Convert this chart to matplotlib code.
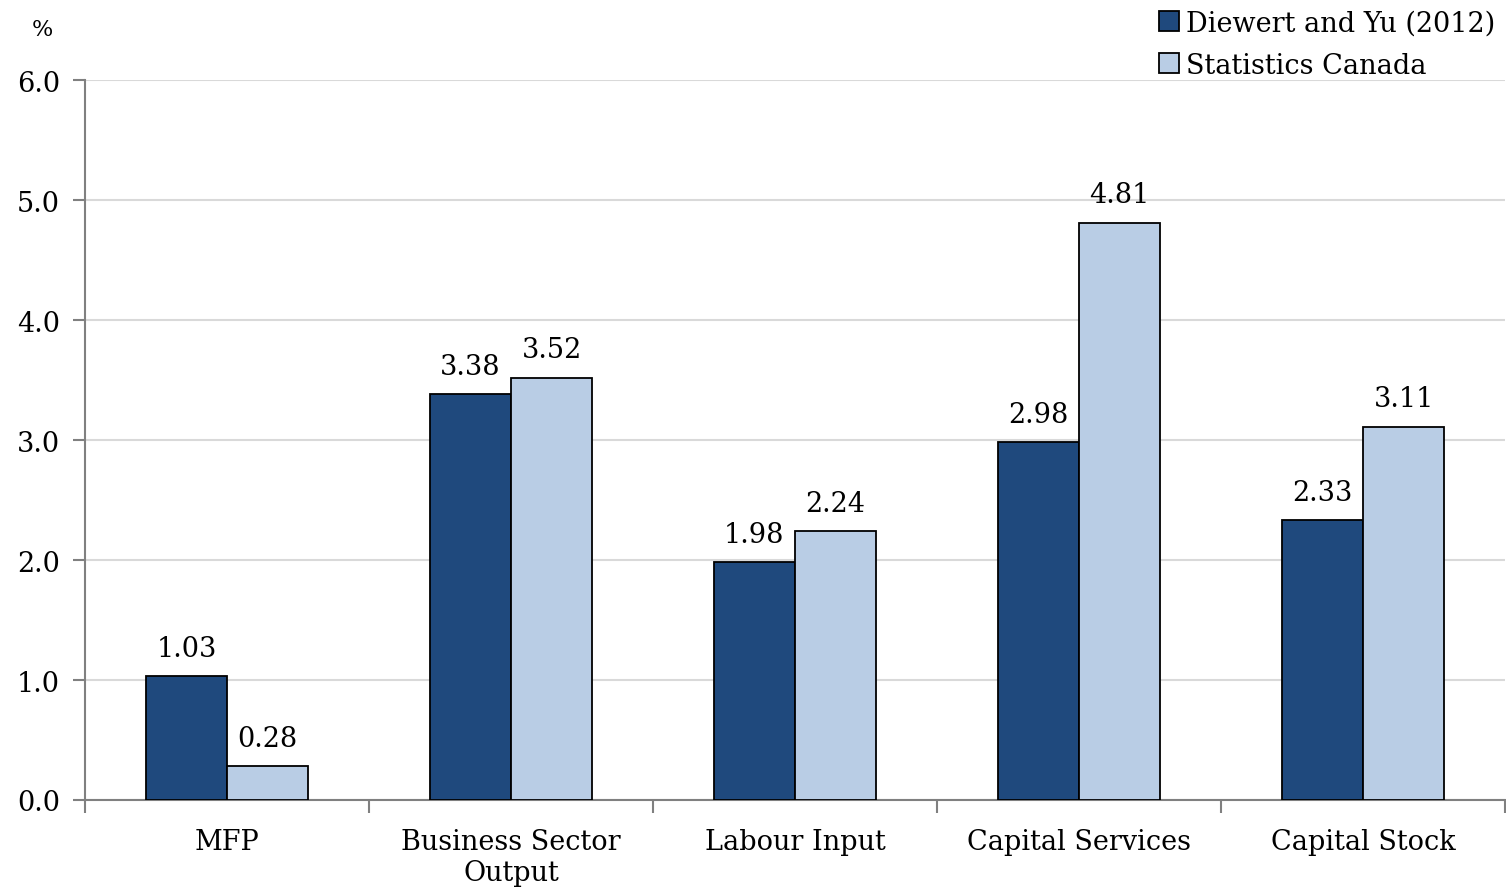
import matplotlib
matplotlib.use("Agg")
import matplotlib.pyplot as plt
import numpy as np

categories = ["MFP", "Business Sector\nOutput", "Labour Input", "Capital Services", "Capital Stock"]
series_names = ["Diewert and Yu (2012)", "Statistics Canada"]
diewert = [1.03, 3.38, 1.98, 2.98, 2.33]
statcan = [0.28, 3.52, 2.24, 4.81, 3.11]
yticks = [0.0, 1.0, 2.0, 3.0, 4.0, 5.0, 6.0]

plt.rcParams['font.family'] = ['DejaVu Serif']
FS = 19.5

fig = plt.figure(figsize=(15.06, 8.95), dpi=100)
ax = fig.add_axes([85/1506, 1-801/895, 1420/1506, 720/895])

x = np.arange(len(categories))
w = 0.286
dark = "#1F497D"
light = "#B9CDE5"
b1 = ax.bar(x - w/2, diewert, w, color=dark, edgecolor="black", linewidth=1.3, label=series_names[0], zorder=3)
b2 = ax.bar(x + w/2, statcan, w, color=light, edgecolor="black", linewidth=1.3, label=series_names[1], zorder=3)

for bars, vals in ((b1, diewert), (b2, statcan)):
    for r, v in zip(bars, vals):
        ax.text(r.get_x() + r.get_width()/2, v + 0.12, f"{v:.2f}", ha="center", va="bottom", fontsize=FS)

ax.set_xlim(-0.5, len(categories) - 0.5)
ax.set_ylim(0, 6)
ax.set_yticks(yticks)
ax.set_yticklabels([f"{t:.1f}" for t in yticks], fontsize=FS)
ax.yaxis.grid(True, color="#D9D9D9", linewidth=1.5, zorder=0)
ax.set_axisbelow(True)

ax.set_xticks(x)
ax.set_xticklabels(categories, fontsize=FS, linespacing=1.2)
ax.tick_params(axis="x", length=0, pad=20)
ax.set_xticks(np.arange(-0.5, len(categories)), minor=True)
ax.tick_params(axis="x", which="minor", length=9, width=1.5, color="#808080", direction="out")
ax.tick_params(axis="y", length=9, width=1.5, color="#808080", direction="out", pad=9)

for s in ["top", "right"]:
    ax.spines[s].set_visible(False)
for s in ["left", "bottom"]:
    ax.spines[s].set_color("#808080")
    ax.spines[s].set_linewidth(1.5)

fig.text(42/1506, 1-30/895, "%", ha="center", va="center", fontsize=16)

leg = fig.legend(handles=[b1, b2], labels=series_names, loc="upper right", bbox_to_anchor=(1.0, 1.0),
                 frameon=False, fontsize=FS, handlelength=0.75, handleheight=0.75, handletextpad=0.25,
                 labelspacing=0.55, borderaxespad=0.2, borderpad=0.2)

fig.savefig("out.png", dpi=100)
